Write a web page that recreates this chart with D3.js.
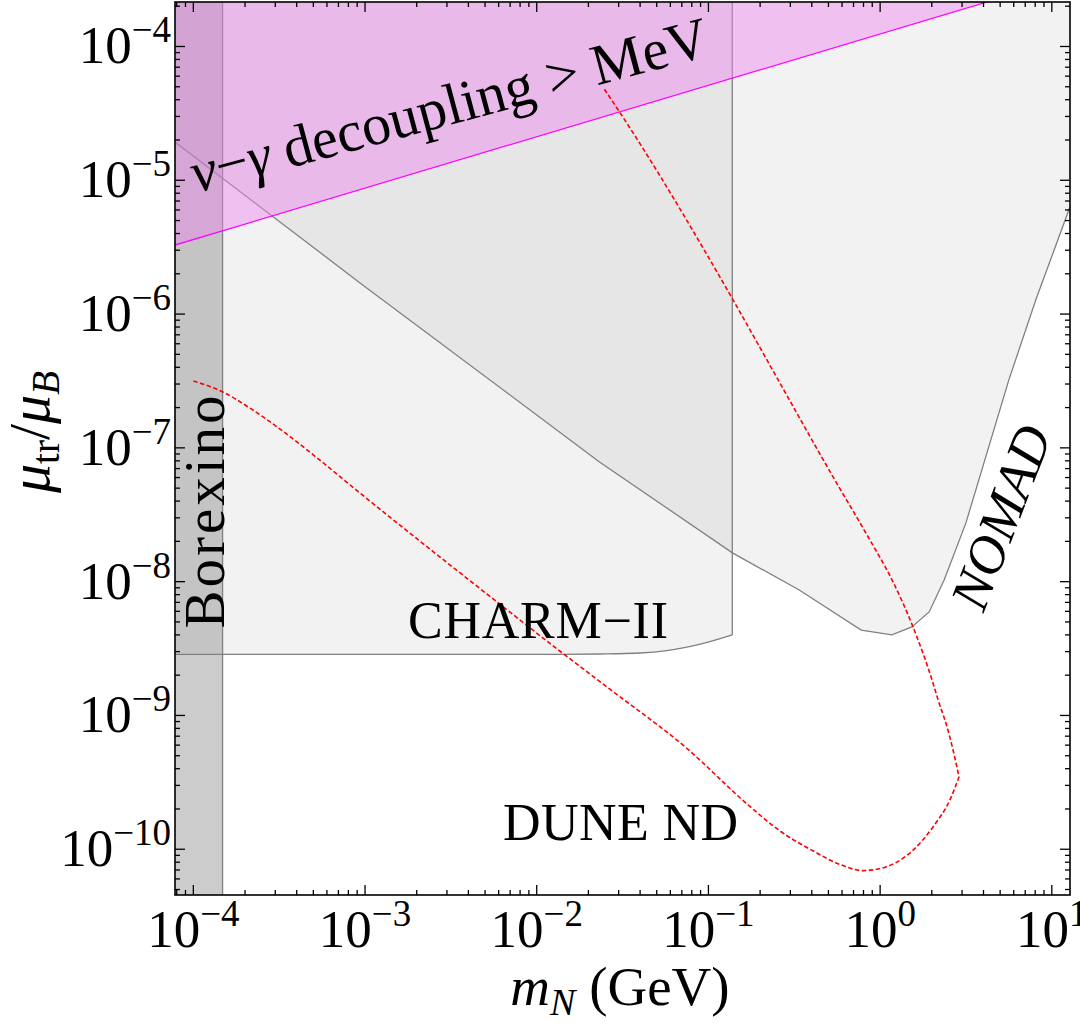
<!DOCTYPE html>
<html>
<head>
<meta charset="utf-8">
<script src="https://d3js.org/d3.v7.min.js"></script>
<style>
  body { margin: 0; background: #fff; }
  svg text { font-family: "Liberation Serif", "Times New Roman", serif; fill: #000; }
</style>
</head>
<body>
<svg id="chart" width="1080" height="1025"></svg>
<script>
// axis ranges: m_N in GeV, mu_tr / mu_B
const massRange = [7.82e-5, 12.76];
const muRange = [4.55e-11, 2.15e-4];

// Borexino excludes everything below this mass
const borexinoMax = 1.48e-4;

// nu-gamma decoupling > MeV, region above the line
const decouplingMass = [1e-5, 100];
const decouplingMu = [1.49e-6, 7.27e-4];

// CHARM-II lower edge, vertical cut at the last mass
const charmMass = [1e-5, 0.012, 0.0234, 0.040, 0.0571, 0.0897, 0.1377];
const charmMu = [2.86e-9, 2.86e-9, 2.88e-9, 2.93e-9, 3.05e-9, 3.41e-9, 4.0e-9];

// NOMAD lower edge
const nomadMass = [7.82e-5, 9.35e-4, 0.0232, 0.138, 0.338, 0.776, 1.17, 1.53, 1.93, 2.36, 3.16, 5.62, 8.07, 12.76];
const nomadMu = [1.93e-5, 1.71e-6, 7.85e-8, 1.64e-8, 8.67e-9, 4.35e-9, 4.0e-9, 4.59e-9, 5.94e-9, 1.03e-8, 2.75e-8, 3.22e-7, 1.28e-6, 6.33e-6];

// DUNE ND sensitivity: lower branch and upper branch, both in rising mass, meeting at ~2.88 GeV
const duneLowMass = [1.0e-4, 1.49e-4, 2.14e-4, 3.33e-4, 5.25e-4, 8.98e-4, 2.39e-3, 5.72e-3, 1.385e-2, 2.67e-2, 7.41e-2, 0.172, 0.261, 0.408, 0.584, 0.798, 1.09, 1.56, 2.04, 2.55, 2.88];
const duneLowMu = [3.16e-7, 2.61e-7, 1.98e-7, 1.33e-7, 8.42e-8, 4.79e-8, 1.75e-8, 7.24e-9, 2.98e-9, 1.57e-9, 5.74e-10, 2.12e-10, 1.37e-10, 9.7e-11, 7.7e-11, 6.92e-11, 7.41e-11, 9.88e-11, 1.48e-10, 2.34e-10, 3.47e-10];
const duneHighMass = [0.0248, 0.0306, 0.0400, 0.0522, 0.0711, 0.0930, 0.137, 0.251, 0.532, 0.839, 1.189, 1.554, 2.006, 2.174, 2.453, 2.659, 2.88];
const duneHighMu = [4.79e-5, 3.19e-5, 1.87e-5, 1.08e-5, 5.60e-6, 3.12e-6, 1.32e-6, 3.33e-7, 6.06e-8, 2.23e-8, 9.95e-9, 4.59e-9, 1.84e-9, 1.31e-9, 8.2e-10, 5.52e-10, 3.47e-10];

const pL = 175, pR = 1070, pT = 2, pB = 895;
const x = d3.scaleLog().domain(massRange).range([pL, pR]);
const y = d3.scaleLog().domain(muRange).range([pB, pT]);
const sky = 1e-2; // above the plot, used to close the filled regions

const svg = d3.select("#chart");
svg.append("clipPath").attr("id", "clip")
  .append("rect").attr("x", pL).attr("y", pT).attr("width", pR - pL).attr("height", pB - pT);
const plot = svg.append("g").attr("clip-path", "url(#clip)");

const zip = (a, b) => a.map((v, i) => [v, b[i]]);
const line = d3.line().x(d => x(d[0])).y(d => y(d[1]));
const area = d3.area().x(d => x(d[0])).y0(y(sky)).y1(d => y(d[1]));

const nomad = zip(nomadMass, nomadMu);
const charm = zip(charmMass, charmMu);
const decoupling = zip(decouplingMass, decouplingMu);

// fills
plot.append("path").attr("d", area(nomad)).attr("fill", "#808080").attr("fill-opacity", 0.1);
plot.append("path").attr("d", area.curve(d3.curveMonotoneX)(charm)).attr("fill", "#808080").attr("fill-opacity", 0.1);
area.curve(d3.curveLinear);
plot.append("rect")
  .attr("x", x(massRange[0]) - 5).attr("y", pT)
  .attr("width", x(borexinoMax) - x(massRange[0]) + 5).attr("height", pB - pT)
  .attr("fill", "#808080").attr("fill-opacity", 0.4);

// boundary lines
const grey = { stroke: "#808080", width: 1.3 };
plot.append("path").attr("d", line(nomad)).attr("fill", "none")
  .attr("stroke", grey.stroke).attr("stroke-width", grey.width);
plot.append("path").attr("d", line.curve(d3.curveMonotoneX)(charm)).attr("fill", "none")
  .attr("stroke", grey.stroke).attr("stroke-width", grey.width);
line.curve(d3.curveLinear);
const cut = charmMass[charmMass.length - 1];
plot.append("line").attr("x1", x(cut)).attr("x2", x(cut))
  .attr("y1", y(charmMu[charmMu.length - 1])).attr("y2", pT)
  .attr("stroke", grey.stroke).attr("stroke-width", grey.width);
plot.append("line").attr("x1", x(borexinoMax)).attr("x2", x(borexinoMax))
  .attr("y1", pT).attr("y2", pB)
  .attr("stroke", grey.stroke).attr("stroke-width", grey.width);

// decoupling band
plot.append("path").attr("d", area(decoupling)).attr("fill", "violet").attr("fill-opacity", 0.45);
plot.append("path").attr("d", line(decoupling)).attr("fill", "none")
  .attr("stroke", "#ff00ff").attr("stroke-width", 1.2);

// DUNE ND
const dune = d3.line().x(d => x(d[0])).y(d => y(d[1])).curve(d3.curveMonotoneX);
[zip(duneLowMass, duneLowMu), zip(duneHighMass, duneHighMu)].forEach(branch => {
  plot.append("path").attr("d", dune(branch)).attr("fill", "none")
    .attr("stroke", "#ff0000").attr("stroke-width", 1.6).attr("stroke-dasharray", "4.5,2.5");
});

// region labels
svg.append("text").attr("transform", "translate(224,512) rotate(-90)")
  .attr("text-anchor", "middle").attr("font-size", 57)
  .attr("textLength", 233).attr("lengthAdjust", "spacing").text("Borexino");
svg.append("text").attr("x", 408).attr("y", 638).attr("font-size", 52)
  .attr("textLength", 260).attr("lengthAdjust", "spacing").text("CHARM\u2212II");
svg.append("text").attr("x", 503).attr("y", 840).attr("font-size", 52)
  .attr("textLength", 235).attr("lengthAdjust", "spacing").text("DUNE ND");
svg.append("text").attr("transform", "translate(1018,524) rotate(-69)")
  .attr("text-anchor", "middle").attr("font-size", 54).attr("font-style", "italic").text("NOMAD");

const dec = svg.append("text").attr("transform", "translate(196,193) rotate(-15)").attr("font-size", 58);
dec.append("tspan").attr("font-style", "italic").text("\u03bd");
dec.append("tspan").text("\u2212");
dec.append("tspan").attr("font-style", "italic").text("\u03b3");
dec.append("tspan").text(" decoupling > MeV");

// frame
svg.append("rect").attr("x", pL).attr("y", pT).attr("width", pR - pL).attr("height", pB - pT)
  .attr("fill", "none").attr("stroke", "#000").attr("stroke-width", 1.6);

// ticks on all four sides, pointing in
const isMajor = v => Math.abs(Math.log10(v) - Math.round(Math.log10(v))) < 1e-6;
const tickG = svg.append("g").attr("stroke", "#000").attr("stroke-width", 1.3);
x.ticks().forEach(v => {
  const len = isMajor(v) ? 10 : 5, px = x(v);
  tickG.append("line").attr("x1", px).attr("x2", px).attr("y1", pB).attr("y2", pB - len);
  tickG.append("line").attr("x1", px).attr("x2", px).attr("y1", pT).attr("y2", pT + len);
});
y.ticks().forEach(v => {
  const len = isMajor(v) ? 10 : 5, py = y(v);
  tickG.append("line").attr("x1", pL).attr("x2", pL + len).attr("y1", py).attr("y2", py);
  tickG.append("line").attr("x1", pR).attr("x2", pR - len).attr("y1", py).attr("y2", py);
});

const expo = v => {
  const e = Math.round(Math.log10(v));
  return e < 0 ? "\u2212" + (-e) : String(e);
};
x.ticks().filter(isMajor).forEach(v => {
  const t = svg.append("text").attr("x", x(v)).attr("y", 947).attr("text-anchor", "middle").attr("font-size", 53);
  t.append("tspan").text("10");
  t.append("tspan").attr("dy", -21).attr("font-size", 37).text(expo(v));
});
y.ticks().filter(isMajor).forEach(v => {
  const t = svg.append("text").attr("x", 171).attr("y", y(v) + 17).attr("text-anchor", "end").attr("font-size", 53);
  t.append("tspan").text("10");
  t.append("tspan").attr("dy", -21).attr("font-size", 37).text(expo(v));
});

// axis titles
const xt = svg.append("text").attr("x", 620).attr("y", 1005).attr("text-anchor", "middle").attr("font-size", 55);
xt.append("tspan").attr("font-style", "italic").text("m");
xt.append("tspan").attr("font-style", "italic").attr("font-size", 38).attr("dy", 10).text("N");
xt.append("tspan").attr("dy", -10).text(" (GeV)");

const yt = svg.append("text").attr("transform", "translate(49,432) rotate(-90)").attr("text-anchor", "middle").attr("font-size", 58);
yt.append("tspan").attr("font-style", "italic").text("\u03bc");
yt.append("tspan").attr("font-size", 39).attr("dy", 10).text("tr");
yt.append("tspan").attr("dy", -10).text("/");
yt.append("tspan").attr("font-style", "italic").text("\u03bc");
yt.append("tspan").attr("font-style", "italic").attr("font-size", 39).attr("dy", 10).text("B");
</script>
</body>
</html>
